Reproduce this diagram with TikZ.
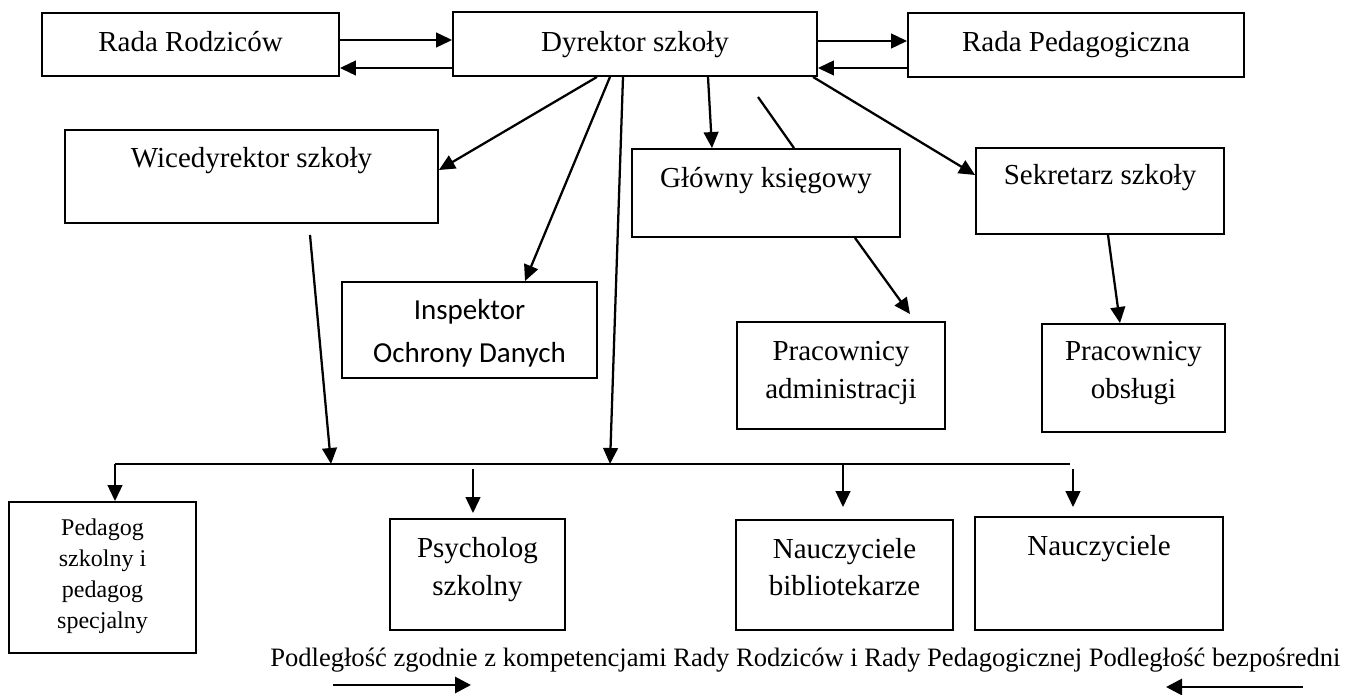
\documentclass[tikz,border=0pt]{standalone}
\usepackage{graphicx}
\usepackage{fontspec}
\setmainfont{Liberation Serif}
\newfontfamily\calibrifont{Carlito}
\usetikzlibrary{arrows.meta,calc}
\begin{document}
\begin{tikzpicture}[x=0.75pt,y=-0.75pt,
  box/.style={draw,line width=1.4pt,rectangle,inner sep=0pt},
  bx/.style 2 args={box,minimum width={#1*0.75pt},minimum height={#2*0.75pt}},
  arr/.style={line width=1.7pt,-{Triangle[length=12pt,width=11pt]}},
  legarr/.style={line width=2.2pt,-{Triangle[length=12pt,width=12pt]}},
  ln/.style={line width=1.7pt},
  txt/.style={anchor=base,inner sep=0pt,font=\fontsize{21.75pt}{26pt}\selectfont},
  stxt/.style={anchor=base,inner sep=0pt,font=\fontsize{18pt}{22pt}\selectfont},
  ctxt/.style={anchor=base,inner sep=0pt,font=\calibrifont\fontsize{21.75pt}{26pt}\selectfont}]
\useasboundingbox (0,0) rectangle (1354,695);

% boxes
\node[bx={297}{63}] (rr) at (190.5,44.5) {};
\node[bx={364}{64}] (dyr) at (635,44) {};
\node[bx={336}{64}] (rp) at (1076,45) {};
\node[bx={373}{93}] (wice) at (251.5,176.5) {};
\node[bx={255}{96}] (insp) at (469.5,330) {};
\node[bx={268}{88}] (glow) at (766,193) {};
\node[bx={208}{107}] (adm) at (841,375.5) {};
\node[bx={248}{86}] (sek) at (1100,191) {};
\node[bx={183}{108}] (obs) at (1133.5,378) {};
\node[bx={187}{151}] (ped) at (102.5,577.5) {};
\node[bx={175}{111}] (psy) at (477.5,574.5) {};
\node[bx={217}{110}] (bib) at (844.5,575) {};
\node[bx={248}{113}] (nau) at (1099,573.5) {};

% texts
\node[txt] (trr) at (rr.center |- 0,52) {Rada Rodziców};
\node[txt] (tdyr) at (dyr.center |- 0,52) {Dyrektor szkoły};
\node[txt] (trp) at (rp.center |- 0,52) {Rada Pedagogiczna};
\node[txt] (twice) at (wice.center |- 0,168) {Wicedyrektor szkoły};
\node[ctxt] (tinsp1) at (insp.center |- 0,320) {Inspektor};
\node[ctxt] (tinsp2) at (insp.center |- 0,363) {Ochrony Danych};
\node[txt] (tglow) at (glow.center |- 0,188) {Główny księgowy};
\node[txt] (tadm1) at (adm.center |- 0,361) {Pracownicy};
\node[txt] (tadm2) at (adm.center |- 0,398) {administracji};
\node[txt] (tsek) at (sek.center |- 0,185) {Sekretarz szkoły};
\node[txt] (tobs1) at (obs.center |- 0,361) {Pracownicy};
\node[txt] (tobs2) at (obs.center |- 0,398) {obsługi};
\node[stxt] (tped1) at (ped.center |- 0,535) {Pedagog};
\node[stxt] (tped2) at (ped.center |- 0,566) {szkolny i};
\node[stxt] (tped3) at (ped.center |- 0,597) {pedagog};
\node[stxt] (tped4) at (ped.center |- 0,628) {specjalny};
\node[txt] (tpsy1) at (psy.center |- 0,557) {Psycholog};
\node[txt] (tpsy2) at (psy.center |- 0,595) {szkolny};
\node[txt] (tbib1) at (bib.center |- 0,558) {Nauczyciele};
\node[txt] (tbib2) at (bib.center |- 0,595) {bibliotekarze};
\node[txt] (tnau) at (nau.center |- 0,555) {Nauczyciele};
\node[anchor=base west,inner sep=0pt] (leg) at (270,666)
  {\resizebox{802.5pt}{!}{Podległość zgodnie z kompetencjami Rady Rodziców i Rady Pedagogicznej Podległość bezpośredni}};

% top row connectors
\draw[arr] (rr.east |- 0,40) -- (dyr.west |- 0,40);
\draw[arr] (dyr.west |- 0,68) -- (rr.east |- 0,68);
\draw[arr] (dyr.east |- 0,41) -- (rp.west |- 0,41);
\draw[arr] (rp.west |- 0,68) -- (dyr.east |- 0,68);

% bus
\coordinate (busL) at (115,464);
\coordinate (busR) at (1070,464);
\draw[ln] (busL) -- (busR);

% from director
\draw[arr] (dyr.south -| 597,0) -- (wice.east |- 0,170);
\draw[arr] (dyr.south -| 610,0) -- (insp.north -| 525,0);
\draw[arr] (dyr.south -| 623,0) -- (busL -| 610,0);
\draw[arr] (dyr.south -| 708,0) -- (glow.north -| 712,0);
\coordinate (s1) at (758,97);
\draw[ln] (s1) -- (glow.north -| 794,0);
\draw[arr] (dyr.south -| 813,0) -- (sek.west |- 0,175);

\draw[arr] (glow.south -| 855,0) -- ($(adm.north -| 910,0)+(0,-7)$);
\draw[arr] (sek.south -| 1108,0) -- (obs.north -| 1120,0);
\draw[arr] ($(wice.south -| 310,0)+(0,11)$) -- (busL -| 331,0);

% from bus
\draw[arr] (busL) -- (ped.north -| busL);
\coordinate (p1) at (473,469);
\draw[arr] (p1) -- ($(psy.north -| p1)+(0,-5)$);
\draw[arr] (busL -| 843,0) -- ($(bib.north -| 843,0)+(0,-12)$);
\coordinate (n1) at (1073,469);
\draw[arr] (n1) -- ($(nau.north -| n1)+(0,-9)$);

% legend arrows
\coordinate (la1) at (333,685);
\coordinate (la2) at (471,685);
\draw[legarr] (la1) -- (la2);
\coordinate (lb1) at (1303,687);
\coordinate (lb2) at (1166,687);
\draw[legarr] (lb1) -- (lb2);
\end{tikzpicture}
\end{document}
